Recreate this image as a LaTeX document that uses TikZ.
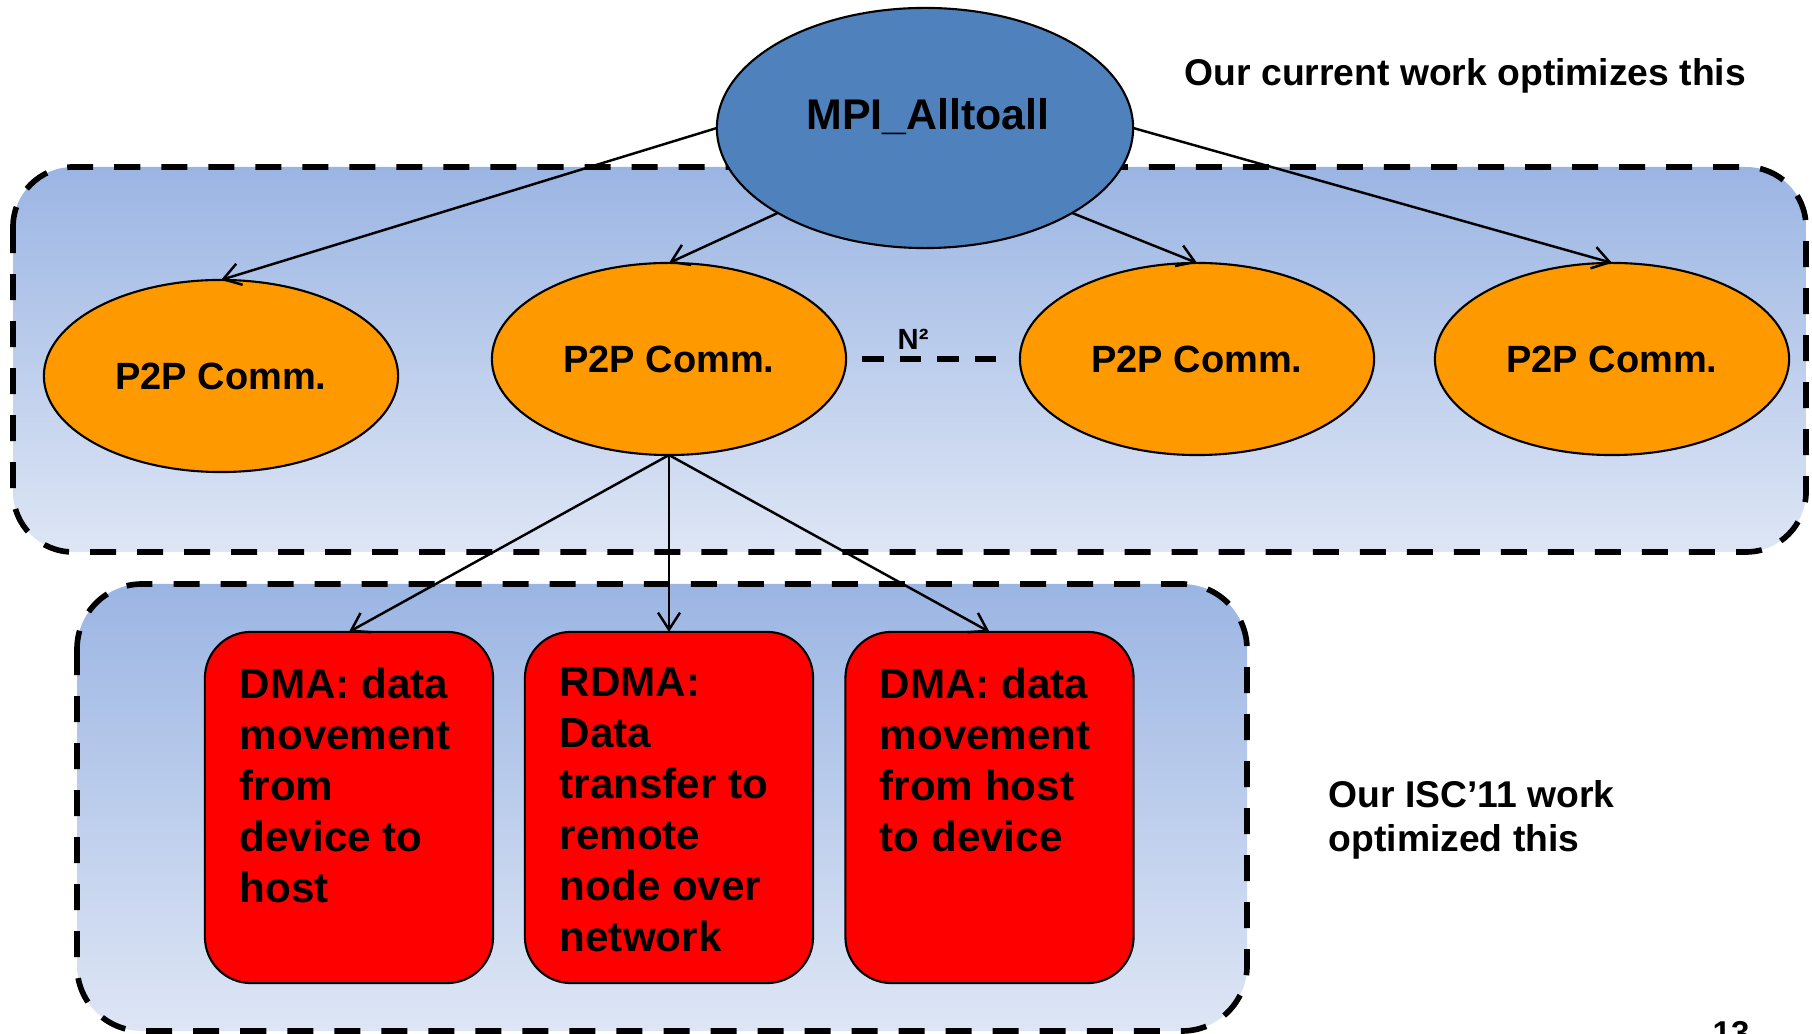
\documentclass[tikz,border=0pt]{standalone}
\usepackage{fontspec}
\setmainfont{Liberation Sans}
\usetikzlibrary{arrows.meta,shapes.geometric}
\definecolor{mpiblue}{RGB}{79,129,189}
\definecolor{p2porange}{RGB}{255,153,0}
\definecolor{boxtop}{RGB}{155,181,227}
\definecolor{boxbot}{RGB}{222,230,245}
\newcommand\figbody{\fontsize{10.8}{14.5}\selectfont\bfseries}
\newcommand\figred{\fontsize{12}{14.5}\selectfont\bfseries}
\newcommand\figside{\fontsize{10.6}{12.5}\selectfont\bfseries}
\newcommand\figmpi{\fontsize{12.2}{14}\selectfont\bfseries}
\newcommand\figsmall{\fontsize{8.3}{10}\selectfont\bfseries}
\newcommand\figpage{\fontsize{9.4}{11}\selectfont\bfseries}
\begin{document}
\begin{tikzpicture}[x=0.01cm,y=-0.01cm,
  groupbox/.style={draw=black, line width=1.6pt, dash pattern=on 2.6mm off 2.1mm, top color=boxtop, bottom color=boxbot},
  mpinode/.style={ellipse, draw=black, line width=0.6pt, fill=mpiblue, minimum width=4.16cm, minimum height=2.4cm, inner sep=0pt, outer sep=0pt},
  p2pnode/.style={ellipse, draw=black, line width=0.6pt, fill=p2porange, minimum width=3.54cm, minimum height=1.92cm, inner sep=0pt, outer sep=0pt, font=\figbody},
  redbox/.style={draw=black, line width=0.6pt, fill=red, rounded corners=0.46cm, minimum width=2.88cm, minimum height=3.51cm, inner sep=0pt, outer sep=0pt},
  redtext/.style={anchor=north west, inner sep=0pt, align=left, font=\figred},
  sidetext/.style={inner sep=0pt, align=left, font=\figside},
  conn/.style={-{Straight Barb[length=1.7mm,width=2.2mm]}, line width=0.7pt},
  gapdash/.style={line width=1.8pt, dash pattern=on 2.15mm off 1.6mm}]
\useasboundingbox (0,0) rectangle (1812,1034);
\clip (0,0) rectangle (1812,1034);

% group boxes
\path[groupbox, rounded corners=0.6cm] (13,167) rectangle (1806,552);
\path[groupbox, rounded corners=0.65cm] (77,584) rectangle (1247,1031);

% nodes
\node[mpinode] (mpi) at (925,128) {};
\node[font=\figmpi, inner sep=0pt, anchor=base] (mpit) at (928,130) {MPI\_Alltoall};

\node[p2pnode] (p1) at (221,376) {P2P Comm.};
\node[p2pnode] (p2) at (669,359) {P2P Comm.};
\node[p2pnode] (p3) at (1197,359) {P2P Comm.};
\node[p2pnode] (p4) at (1612,359) {P2P Comm.};

\node[redbox] (r1) at (349,807.5) {};
\node[redbox] (r2) at (669,807.5) {};
\node[redbox] (r3) at (989.5,807.5) {};

\node[redtext] (t1) at (239,667) {DMA: data\\movement\\from\\device to\\host};
\node[redtext] (t2) at (559,667) {RDMA:\\Data\\transfer to\\remote\\node over\\network};
\node[redtext] (t3) at (879,667) {DMA: data\\movement\\from host\\to device};

\node[sidetext, anchor=base west] (note1) at (1184,86) {Our current work optimizes this};
\node[sidetext, anchor=north west] (note2) at (1328,780) {Our ISC’11 work\\optimized this};

\node[font=\figsmall, inner sep=0pt, anchor=base west] (nsq) at (897,350) {N²};
\node[font=\figpage, inner sep=0pt, anchor=base] (page) at (1731,1044) {13};

% connectors
\draw[conn] (mpi.west) -- (p1.north);
\draw[conn] (mpi.210) -- (p2.north);
\draw[conn] (mpi.330) -- (p3.north);
\draw[conn] (mpi.east) -- (p4.north);
\draw[conn] (p2.south) -- (r1.north);
\draw[conn] (p2.south) -- (r2.north);
\draw[conn] (p2.south) -- (r3.north);
\draw[gapdash, shorten <=1.6mm, shorten >=2.4mm] (p2.east) -- (p3.west);
\end{tikzpicture}
\end{document}
